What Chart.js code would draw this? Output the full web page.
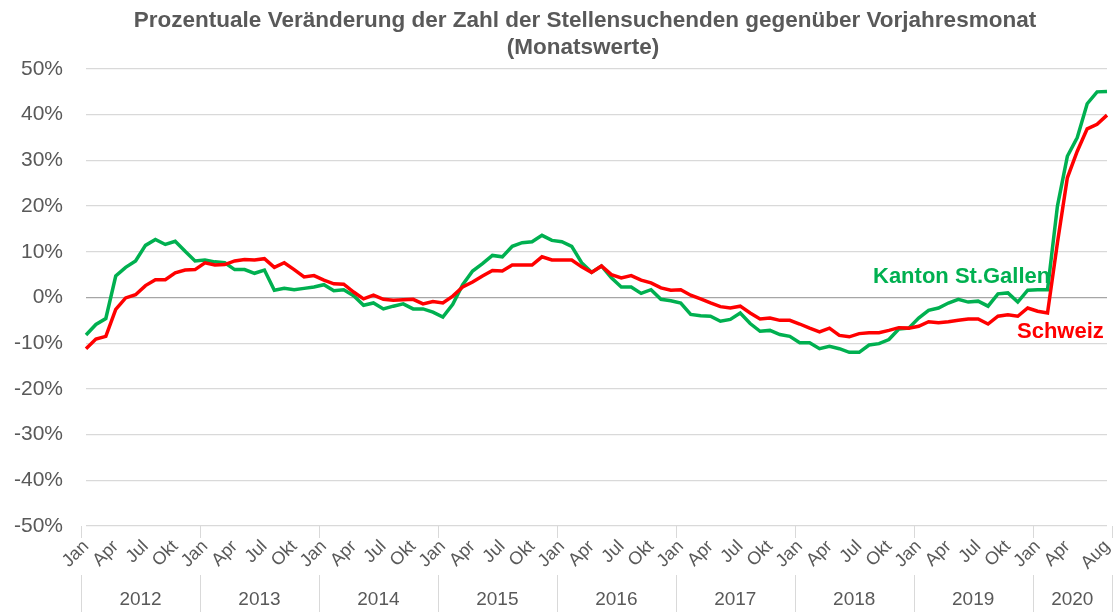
<!DOCTYPE html>
<html>
<head>
<meta charset="utf-8">
<script src="https://cdn.jsdelivr.net/npm/chart.js@4.4.0/dist/chart.umd.min.js"></script>
<style>
  html, body { margin: 0; padding: 0; background: #fff; }
  canvas { display: block; }
</style>
</head>
<body>
<canvas id="chart" width="1115" height="612"></canvas>
<script>
// Monatswerte Jan 2012 - Aug 2020, in %
const years = ['2012', '2013', '2014', '2015', '2016', '2017', '2018', '2019', '2020'];
const monthNames = ['Jan', 'Feb', 'Mär', 'Apr', 'Mai', 'Jun', 'Jul', 'Aug', 'Sep', 'Okt', 'Nov', 'Dez'];
const tickMonths = ['Jan', 'Apr', 'Jul', 'Okt'];

const kantonStGallen = [
    -8.2, -5.9, -4.6, 4.7, 6.6, 8.0, 11.4, 12.7, 11.6, 12.3, 10.1, 8.0,
    8.2, 7.8, 7.6, 6.1, 6.1, 5.3, 6.0, 1.6, 2.0, 1.7, 2.0, 2.3,
    2.8, 1.5, 1.7, 0.4, -1.7, -1.2, -2.5, -1.9, -1.4, -2.5, -2.5, -3.2,
    -4.3, -1.5, 2.8, 5.8, 7.4, 9.2, 8.9, 11.2, 12.0, 12.2, 13.6, 12.5,
    12.2, 11.2, 7.6, 5.5, 6.9, 4.3, 2.3, 2.3, 0.9, 1.7, -0.4, -0.7,
    -1.2, -3.7, -4.0, -4.1, -5.2, -4.8, -3.4, -5.7, -7.4, -7.2, -8.1, -8.5,
    -9.9, -9.9, -11.2, -10.7, -11.2, -12.0, -12.0, -10.4, -10.1, -9.2, -6.9, -6.7,
    -4.5, -2.8, -2.3, -1.2, -0.4, -1.0, -0.8, -1.9, 0.8, 1.0, -1.0, 1.6,
    1.7, 1.7, 20.0, 30.9, 35.0, 42.4, 45.0, 45.1
];

const schweiz = [
    -11.2, -9.1, -8.5, -2.6, -0.1, 0.6, 2.6, 3.9, 3.9, 5.4, 6.0, 6.1,
    7.6, 7.1, 7.2, 8.0, 8.3, 8.2, 8.5, 6.6, 7.6, 6.1, 4.5, 4.8,
    3.8, 3.0, 2.9, 1.2, -0.3, 0.5, -0.4, -0.6, -0.5, -0.4, -1.4, -0.9,
    -1.2, 0.3, 2.3, 3.4, 4.7, 5.9, 5.8, 7.1, 7.1, 7.1, 8.9, 8.2,
    8.2, 8.2, 6.7, 5.5, 6.9, 5.0, 4.3, 4.8, 3.8, 3.2, 2.1, 1.6,
    1.7, 0.5, -0.3, -1.2, -2.0, -2.3, -1.9, -3.4, -4.7, -4.5, -5.0, -5.0,
    -5.8, -6.7, -7.5, -6.7, -8.3, -8.6, -7.9, -7.7, -7.7, -7.2, -6.6, -6.7,
    -6.3, -5.3, -5.5, -5.3, -5.0, -4.7, -4.7, -5.8, -4.1, -3.8, -4.1, -2.3,
    -3.0, -3.4, 12.0, 26.2, 32.0, 36.9, 37.9, 39.9
];

const titleLines = [
    'Prozentuale Veränderung der Zahl der Stellensuchenden gegenüber Vorjahresmonat',
    '(Monatswerte)'
];

// category labels: "Jan 2012" ... "Aug 2020"
const categories = [];
years.forEach(y => monthNames.forEach(m => categories.push(m + ' ' + y)));
categories.length = schweiz.length;

const GREEN = '#00b050';
const RED = '#ff0000';
const GREY = '#595959';
const FONT = "'Liberation Sans', Arial, sans-serif";

// Title, year row and series labels
const extras = {
    id: 'extras',
    afterDraw(chart) {
        const ctx = chart.ctx;
        const x = chart.scales.x;
        const area = chart.chartArea;
        ctx.save();

        ctx.fillStyle = GREY;
        ctx.font = 'bold 22.5px ' + FONT;
        ctx.textAlign = 'center';
        ctx.textBaseline = 'middle';
        ctx.fillText(titleLines[0], 585, 21);
        ctx.fillText(titleLines[1], 583, 48);

        // year separators
        ctx.strokeStyle = '#d9d9d9';
        ctx.lineWidth = 1;
        const bounds = [];
        for (let i = 0; i < categories.length; i += 12) bounds.push(i - 0.5);
        bounds.push(categories.length - 0.5);
        bounds.forEach(b => {
            const px = Math.round(x.getPixelForValue(b)) + 0.5;
            ctx.beginPath();
            ctx.moveTo(px, area.bottom);
            ctx.lineTo(px, area.bottom + 12);
            ctx.moveTo(px, 575);
            ctx.lineTo(px, 612);
            ctx.stroke();
        });

        // year labels
        ctx.font = '19px ' + FONT;
        ctx.fillStyle = GREY;
        years.forEach((y, k) => {
            const from = k * 12;
            const to = Math.min(from + 11, categories.length - 1);
            ctx.fillText(y, x.getPixelForValue((from + to) / 2), 600);
        });

        // series labels
        ctx.font = 'bold 22px ' + FONT;
        ctx.textAlign = 'left';
        ctx.textBaseline = 'alphabetic';
        ctx.fillStyle = GREEN;
        ctx.fillText('Kanton St.Gallen', 873, 283);
        ctx.fillStyle = RED;
        ctx.fillText('Schweiz', 1017, 338);
        ctx.restore();
    }
};

new Chart(document.getElementById('chart'), {
    type: 'line',
    data: {
        labels: categories,
        datasets: [
            {
                label: 'Schweiz',
                data: schweiz,
                borderColor: RED,
                borderWidth: 3.5,
                pointRadius: 0,
                tension: 0
            },
            {
                label: 'Kanton St.Gallen',
                data: kantonStGallen,
                borderColor: GREEN,
                borderWidth: 3.5,
                pointRadius: 0,
                tension: 0
            }
        ]
    },
    options: {
        responsive: false,
        animation: false,
        layout: { padding: { top: 69, right: 8, bottom: 0, left: 0 } },
        plugins: {
            legend: { display: false },
            title: { display: false },
            tooltip: { enabled: false }
        },
        scales: {
            x: {
                afterFit: scale => {
                    scale.height = 86;
                    scale.paddingLeft = 0;
                    scale.paddingRight = 0;
                },
                grid: { display: false },
                border: { display: false },
                ticks: {
                    autoSkip: false,
                    minRotation: 45,
                    maxRotation: 45,
                    padding: 2,
                    color: GREY,
                    font: { family: FONT, size: 18 },
                    callback: function (value, index) {
                        const m = categories[index].split(' ')[0];
                        const last = categories.length - 1;
                        if (index === last) return m;
                        if (tickMonths.includes(m) && index < last - 2) return m;
                        return '';
                    }
                }
            },
            y: {
                min: -50,
                max: 50,
                afterFit: scale => { scale.width = 86; },
                border: { display: false },
                grid: {
                    drawTicks: false,
                    lineWidth: 1.3,
                    color: ctx => ctx.tick && ctx.tick.value === 0 ? '#a6a6a6' : '#d9d9d9'
                },
                ticks: {
                    stepSize: 10,
                    padding: 23,
                    color: GREY,
                    font: { family: FONT, size: 21 },
                    callback: v => v + '%'
                }
            }
        }
    },
    plugins: [extras]
});
</script>
</body>
</html>
